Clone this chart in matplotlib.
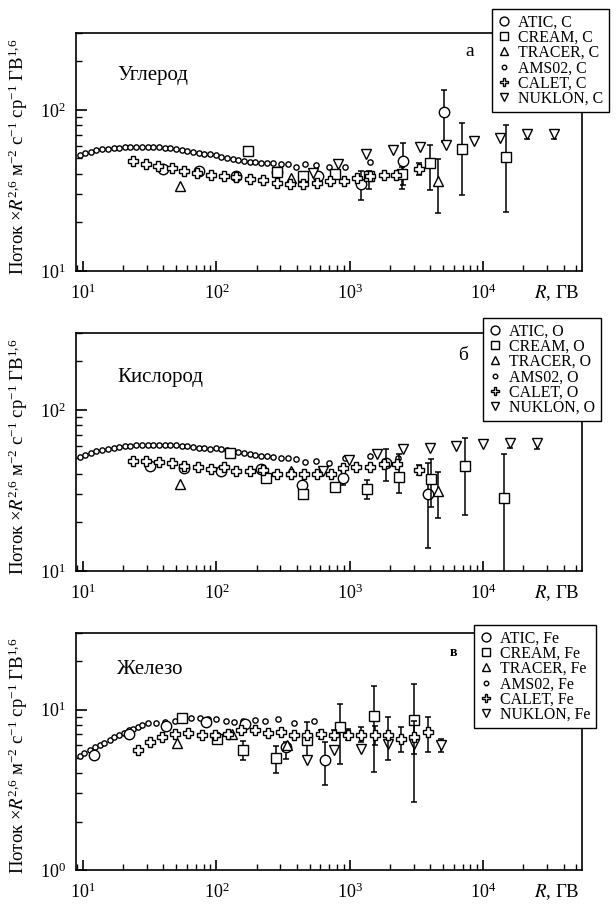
import matplotlib
matplotlib.use("Agg")
import matplotlib.pyplot as plt
from matplotlib.lines import Line2D
from matplotlib.ticker import NullFormatter, LogLocator

plt.rcParams['font.family'] = ['Liberation Serif', 'DejaVu Serif']
plt.rcParams['mathtext.fontset'] = 'stix'
plt.rcParams['mathtext.default'] = 'regular'

# ---------------- Carbon ----------------
C_AMS_R = [9.4, 10.3, 11.4, 12.6, 13.9, 15.3, 16.9, 18.6, 20.5, 22.6, 25.0, 27.5, 30.4, 33.5,
           37.0, 40.8, 45.0, 49.6, 54.7, 60.4, 66.6, 73.5, 81.0, 89.4, 98.6, 109, 120, 132,
           146, 161, 178, 196, 216, 239, 266, 302, 342, 393, 461, 558, 698, 923, 1410]
C_AMS_F = [52.5, 53.8, 55.0, 56.0, 56.8, 57.5, 58.0, 58.4, 58.7, 58.9, 59.0, 59.0, 58.9, 58.8,
           58.5, 58.2, 57.8, 57.2, 56.5, 55.8, 55.0, 54.3, 53.6, 53.0, 52.2, 51.3, 50.6, 49.8,
           49.0, 48.2, 47.5, 47.5, 46.8, 47.0, 46.6, 46.0, 46.0, 44.5, 46.2, 45.5, 44.5, 44.5, 47.5]

C_CALET_R = [23.7, 29.8, 36.2, 46.4, 57.4, 71.6, 91, 113, 141, 178, 223, 282, 355, 447, 563,
             709, 897, 1130, 1420, 1790, 2220, 3320]
C_CALET_F = [48.4, 46.2, 44.9, 43.4, 42.0, 40.4, 39.5, 38.9, 38.2, 37.4, 36.5, 35.0, 34.5, 34.7,
             35.3, 36.3, 36.3, 37.7, 38.9, 39.5, 39.5, 43.0]
C_CALET_LO = [None] * 21 + [39.5]
C_CALET_HI = [None] * 21 + [46.5]

C_ATIC_R = [40, 74, 141, 282, 575, 1216, 2490, 5060]
C_ATIC_F = [43.0, 42.0, 38.6, 41.4, 38.6, 34.5, 48.2, 97.6]
C_ATIC_LO = [None, None, None, None, None, 27.6, 34.0, 63.0]
C_ATIC_HI = [None, None, None, None, None, 41.5, 62.0, 133.0]

C_CREAM_R = [173, 282, 447, 767, 1400, 2460, 4020, 6950, 14700]
C_CREAM_F = [55.6, 41.0, 39.0, 39.9, 38.6, 40.0, 46.6, 57.0, 51.3]
C_CREAM_LO = [53.0, None, None, None, 32.3, 32.3, 32.0, 29.8, 23.4]
C_CREAM_HI = [58.5, None, None, None, 42.0, 44.0, 60.6, 83.4, 80.0]

C_TRACER_R = [53, 360, 4610]
C_TRACER_F = [33.9, 37.8, 36.4]
C_TRACER_LO = [None, None, 23.0]
C_TRACER_HI = [None, None, 49.6]

C_NUKLON_R = [532, 817, 1330, 2100, 3340, 5300, 8460, 13400, 21300, 33800]
C_NUKLON_F = [40.4, 46.0, 53.0, 56.4, 59.2, 60.6, 64.2, 66.7, 70.6, 70.6]
C_NUKLON_LO = [None] * 8 + [66.0, 65.5]
C_NUKLON_HI = [None] * 8 + [75.0, 75.0]

# ---------------- Oxygen ----------------
O_AMS_R = C_AMS_R + [2300]
O_AMS_F = [51.1, 52.5, 54.0, 55.3, 56.5, 57.5, 58.3, 59.0, 59.5, 59.9, 60.2, 60.4, 60.6, 60.7,
           60.7, 60.6, 60.4, 60.2, 59.8, 59.4, 58.9, 58.4, 57.8, 57.2, 58.3, 57.4, 56.5, 55.6,
           54.6, 53.8, 53.0, 52.5, 52.0, 51.6, 51.3, 50.5, 50.2, 49.4, 47.8, 48.2, 47.1, 50.0,
           51.8, 50.0]

O_CALET_R = [23.7, 29.8, 36.8, 46.4, 57.4, 72.2, 91, 113, 141, 179, 224, 282, 360, 450, 570,
             720, 895, 1120, 1420, 1790, 2260, 3300]
O_CALET_F = [48.2, 48.2, 47.5, 46.7, 45.0, 44.4, 43.2, 44.4, 41.8, 41.8, 42.4, 39.9, 40.2, 39.9,
             39.9, 39.9, 43.8, 44.5, 44.5, 46.0, 46.0, 42.3]
O_CALET_LO = [None] * 21 + [39.5]
O_CALET_HI = [None] * 21 + [45.5]

O_ATIC_R = [31.5, 56.6, 109, 214, 436, 895, 1860, 3840]
O_ATIC_F = [45.0, 43.8, 41.8, 43.2, 34.2, 38.0, 47.0, 30.2]
O_ATIC_LO = [None, None, None, None, None, 34.0, 36.2, 13.8]
O_ATIC_HI = [None, None, None, None, None, 42.0, 57.0, 47.0]

O_CREAM_R = [126, 234, 447, 777, 1340, 2320, 4030, 7250, 14200]
O_CREAM_F = [54.3, 38.0, 30.2, 33.3, 32.5, 38.4, 37.2, 45.0, 28.3]
O_CREAM_LO = [None, None, 28.5, 31.5, 28.0, 30.6, 24.8, 22.3, 5.0]
O_CREAM_HI = [None, None, 32.0, 35.0, 36.7, 53.0, 49.4, 67.0, 53.6]

O_TRACER_R = [53, 360, 4610]
O_TRACER_F = [34.8, 41.8, 31.4]
O_TRACER_LO = [None, None, 21.4]
O_TRACER_HI = [None, None, 41.2]

O_NUKLON_R = [630, 990, 1590, 2510, 3990, 6300, 10000, 15900, 25200]
O_NUKLON_F = [41.8, 48.7, 53.0, 57.5, 58.3, 59.7, 61.2, 62.1, 62.1]
O_NUKLON_LO = [None] * 7 + [58.0, 57.5]
O_NUKLON_HI = [None] * 7 + [65.5, 65.5]

# ---------------- Iron ----------------
FE_AMS_R = [9.4, 10.2, 11.3, 12.3, 13.3, 14.4, 15.8, 17.1, 18.6, 20.1, 21.9, 23.6, 25.6, 27.6,
            30.4, 35.4, 41.3, 48.6, 56.1, 64.6, 75.1, 86.4, 100, 117, 135, 158, 193, 233, 290,
            380, 540, 880]
FE_AMS_F = [5.11, 5.38, 5.62, 5.83, 6.03, 6.23, 6.48, 6.73, 6.93, 7.13, 7.41, 7.58, 7.84, 8.03,
            8.22, 8.22, 8.34, 8.54, 8.88, 8.88, 8.83, 8.75, 8.67, 8.54, 8.42, 8.54, 8.63, 8.54,
            8.79, 8.22, 8.46, 7.95]

FE_CALET_R = [25.6, 31.5, 39, 49, 61, 78, 98, 123, 153, 193, 243, 302, 380, 480, 605, 760, 960,
              1210, 1530, 1920, 2420, 3050, 3840]
FE_CALET_F = [5.62, 6.27, 6.73, 7.06, 7.13, 6.99, 6.90, 7.06, 7.41, 7.41, 7.17, 7.23, 6.90, 6.90,
              7.06, 6.99, 6.90, 6.99, 6.99, 6.99, 6.57, 6.73, 7.23]
FE_CALET_LO = [None] * 14 + [6.6, 6.5, 6.42, 6.27, 5.98, 4.87, 5.43, 5.3, 5.43]
FE_CALET_HI = [None] * 14 + [7.5, 7.5, 7.58, 7.76, 7.95, 8.96, 7.76, 8.5, 9.05]

FE_ATIC_R = [12.1, 22.2, 42, 83.5, 165, 330, 652]
FE_ATIC_F = [5.18, 7.06, 7.95, 8.42, 8.15, 5.83, 4.83]
FE_ATIC_LO = [None, None, None, None, None, 4.9, 3.37]
FE_ATIC_HI = [None, None, None, None, None, 6.27, 6.27]

FE_CREAM_R = [55.3, 101, 158, 277, 475, 845, 1510, 3050]
FE_CREAM_F = [8.88, 6.57, 5.56, 5.01, 6.48, 7.84, 9.18, 8.63]
FE_CREAM_LO = [8.45, 6.10, 4.87, 4.02, 5.0, 4.55, 4.08, 2.65]
FE_CREAM_HI = [9.35, 7.10, 6.36, 5.92, 8.34, 10.9, 14.1, 14.4]

FE_TRACER_R = [50.6, 131, 340]
FE_TRACER_F = [6.21, 7.06, 6.0]

FE_NUKLON_R = [480, 765, 1210, 1920, 3050, 4850]
FE_NUKLON_F = [4.83, 5.56, 5.70, 6.12, 6.12, 5.98]
FE_NUKLON_LO = [None] * 5 + [5.43]
FE_NUKLON_HI = [None] * 5 + [6.57]

EXPERIMENTS = ['ATIC', 'CREAM', 'TRACER', 'AMS02', 'CALET', 'NUKLON']
MARKERS = {'ATIC': ('o', 7.5), 'CREAM': ('s', 7.0), 'TRACER': ('^', 7.5),
           'AMS02': ('o', 3.8), 'CALET': ('P', 7.5), 'NUKLON': ('v', 7.5)}
ZORDER = {'AMS02': 3, 'ATIC': 4, 'CREAM': 5, 'TRACER': 5, 'CALET': 6, 'NUKLON': 5}

FIG_W, FIG_H = 616, 906
fig = plt.figure(figsize=(FIG_W / 100, FIG_H / 100), dpi=100)


def series(ax, name, R, F, lo=None, hi=None):
    m, ms = MARKERS[name]
    z = ZORDER[name]
    ax.plot(R, F, ls='none', marker=m, ms=ms, mfc='white', mec='black', mew=1.0, zorder=z)
    if lo is not None:
        xs, ys, el, eh = [], [], [], []
        for r, f, a, b in zip(R, F, lo, hi):
            if a is not None:
                xs.append(r)
                ys.append(f)
                el.append(f - a)
                eh.append(b - f)
        if xs:
            ax.errorbar(xs, ys, yerr=[el, eh], fmt='none', ecolor='black', elinewidth=1.1,
                        capsize=2.3, capthick=1.1, zorder=z - 0.5)


def make_axes(top_px, bottom_px):
    left_px, right_px = 75.7, 582
    return fig.add_axes([left_px / FIG_W, 1 - bottom_px / FIG_H,
                         (right_px - left_px) / FIG_W, (bottom_px - top_px) / FIG_H])


def style(ax, ylim, title, title_y, letter, letter_xy, letter_kw, elem, legend_xy):
    ax.set_xscale('log')
    ax.set_yscale('log')
    ax.set_xlim(8.8, 5.5e4)
    ax.set_ylim(*ylim)
    for s in ax.spines.values():
        s.set_linewidth(1.2)
    ax.tick_params(which='both', direction='in', top=False, right=False, labelsize=13)
    ax.tick_params(which='major', length=7, width=1.2)
    ax.tick_params(axis='x', which='major', pad=9)
    ax.tick_params(axis='y', which='major', length=8, pad=7)
    ax.tick_params(which='minor', length=4.5, width=1.0)
    ax.xaxis.set_minor_locator(LogLocator(base=10, subs=range(2, 10), numticks=20))
    ax.yaxis.set_minor_locator(LogLocator(base=10, subs=range(2, 10), numticks=20))
    ax.xaxis.set_minor_formatter(NullFormatter())
    ax.yaxis.set_minor_formatter(NullFormatter())
    ax.set_ylabel('Поток $\\times \\mathit{R}^{2{,}6}$ м$^{-2}$ с$^{-1}$ ср$^{-1}$ ГВ$^{1{,}6}$',
                  fontsize=13.5)
    ax.yaxis.set_label_coords(-0.09, 0.48)
    ax.text(0.905, -0.092, '$\\mathit{R}$, ГВ', transform=ax.transAxes, ha='left', va='center',
            fontsize=13.5)
    ax.text(0.082, title_y, title, transform=ax.transAxes, ha='left', va='center', fontsize=15)
    ax.text(letter_xy[0], letter_xy[1], letter, transform=fig.transFigure, ha='center',
            va='center', **letter_kw)
    handles = []
    for name in EXPERIMENTS:
        m, ms = MARKERS[name]
        handles.append(Line2D([], [], ls='none', marker=m, ms=ms * 0.85, mfc='white',
                              mec='black', mew=1.0))
    labels = [f'{name}, {elem}' for name in EXPERIMENTS]
    leg = ax.legend(handles, labels, loc='upper left', bbox_to_anchor=legend_xy,
                    bbox_transform=fig.transFigure, fontsize=11.4, frameon=True,
                    fancybox=False, framealpha=1, edgecolor='black', borderpad=0.35,
                    labelspacing=-0.05, handlelength=0.8, handletextpad=0.5, borderaxespad=0)
    leg.get_frame().set_linewidth(1.0)
    leg.set_zorder(10)


# Carbon panel
ax1 = make_axes(33, 271)
series(ax1, 'AMS02', C_AMS_R, C_AMS_F)
series(ax1, 'ATIC', C_ATIC_R, C_ATIC_F, C_ATIC_LO, C_ATIC_HI)
series(ax1, 'CREAM', C_CREAM_R, C_CREAM_F, C_CREAM_LO, C_CREAM_HI)
series(ax1, 'TRACER', C_TRACER_R, C_TRACER_F, C_TRACER_LO, C_TRACER_HI)
series(ax1, 'NUKLON', C_NUKLON_R, C_NUKLON_F, C_NUKLON_LO, C_NUKLON_HI)
series(ax1, 'CALET', C_CALET_R, C_CALET_F, C_CALET_LO, C_CALET_HI)
style(ax1, (10, 300), 'Углерод', 0.823, 'а', (470 / FIG_W, 1 - 52 / FIG_H), dict(fontsize=14),
      'C', (492 / FIG_W, 1 - 9 / FIG_H))

# Oxygen panel
ax2 = make_axes(333, 571)
series(ax2, 'AMS02', O_AMS_R, O_AMS_F)
series(ax2, 'ATIC', O_ATIC_R, O_ATIC_F, O_ATIC_LO, O_ATIC_HI)
series(ax2, 'CREAM', O_CREAM_R, O_CREAM_F, O_CREAM_LO, O_CREAM_HI)
series(ax2, 'TRACER', O_TRACER_R, O_TRACER_F, O_TRACER_LO, O_TRACER_HI)
series(ax2, 'NUKLON', O_NUKLON_R, O_NUKLON_F, O_NUKLON_LO, O_NUKLON_HI)
series(ax2, 'CALET', O_CALET_R, O_CALET_F, O_CALET_LO, O_CALET_HI)
style(ax2, (10, 300), 'Кислород', 0.815, 'б', (463 / FIG_W, 1 - 355 / FIG_H), dict(fontsize=14),
      'O', (483 / FIG_W, 1 - 318 / FIG_H))

# Iron panel
ax3 = make_axes(633, 870)
series(ax3, 'AMS02', FE_AMS_R, FE_AMS_F)
series(ax3, 'ATIC', FE_ATIC_R, FE_ATIC_F, FE_ATIC_LO, FE_ATIC_HI)
series(ax3, 'CREAM', FE_CREAM_R, FE_CREAM_F, FE_CREAM_LO, FE_CREAM_HI)
series(ax3, 'TRACER', FE_TRACER_R, FE_TRACER_F)
series(ax3, 'NUKLON', FE_NUKLON_R, FE_NUKLON_F, FE_NUKLON_LO, FE_NUKLON_HI)
series(ax3, 'CALET', FE_CALET_R, FE_CALET_F, FE_CALET_LO, FE_CALET_HI)
style(ax3, (1, 30), 'Железо', 0.844, 'в', (453 / FIG_W, 1 - 653 / FIG_H),
      dict(fontsize=10, fontweight='bold'), 'Fe', (474 / FIG_W, 1 - 625 / FIG_H))

fig.savefig('out.png', dpi=100)
